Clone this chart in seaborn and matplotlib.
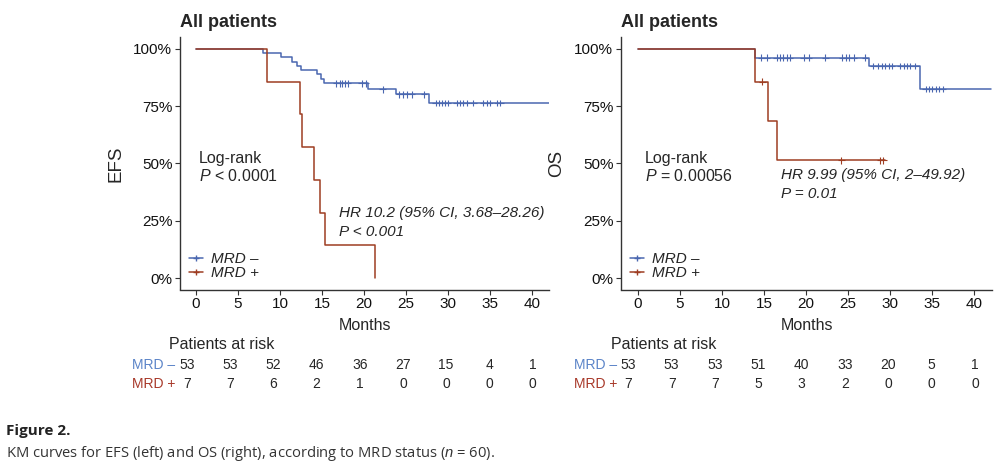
import numpy as np
import pandas as pd
import matplotlib
matplotlib.use('Agg')
import matplotlib.pyplot as plt
from matplotlib.lines import Line2D
import seaborn as sns

sns.set_theme(style='ticks')
plt.rcParams['font.family'] = ['Liberation Sans', 'DejaVu Sans']
plt.rcParams['mathtext.fontset'] = 'custom'
plt.rcParams['mathtext.rm'] = 'Liberation Sans'
plt.rcParams['mathtext.it'] = 'Liberation Sans:italic'

BLUE = '#4a67b0'
RED = '#9e3d22'
BLUE_TXT = '#5b84c8'
RED_TXT = '#a8392a'

# --- EFS step curves (time, survival after step) ---
efs_neg_t = [0, 8.0, 10.1, 11.4, 12.0, 12.5, 14.4, 14.9, 15.2, 20.5, 23.8, 27.7, 42.0]
efs_neg_s = [1.0, 0.981, 0.964, 0.943, 0.926, 0.906, 0.889, 0.870, 0.850, 0.824, 0.802, 0.764, 0.764]
efs_neg_cens = [16.7, 17.1, 17.4, 17.7, 18.1, 19.7, 20.2, 22.2, 24.2, 24.6, 25.1, 25.7, 27.1,
                28.5, 28.9, 29.3, 29.6, 30.0, 31.0, 31.4, 31.8, 32.2, 33.0, 34.2, 34.6, 35.0,
                35.8, 36.2]
efs_pos_t = [0, 8.4, 12.4, 12.65, 14.1, 14.8, 15.4, 21.3]
efs_pos_s = [1.0, 0.857, 0.714, 0.571, 0.429, 0.286, 0.143, 0.0]
efs_pos_cens = []

# --- OS step curves ---
os_neg_t = [0, 13.9, 27.5, 33.6, 42.0]
os_neg_s = [1.0, 0.962, 0.926, 0.825, 0.825]
os_neg_cens = [14.7, 15.3, 16.5, 16.9, 17.3, 17.7, 18.1, 19.7, 20.3, 22.3, 24.3, 24.7, 25.1,
               25.7, 27.0, 28.0, 28.6, 29.0, 29.4, 29.8, 30.2, 31.2, 31.6, 32.0, 32.4, 33.0,
               34.2, 34.6, 35.0, 35.4, 35.8, 36.3]
os_pos_t = [0, 13.9, 15.5, 16.5, 29.4]
os_pos_s = [1.0, 0.857, 0.686, 0.514, 0.514]
os_pos_cens = [14.8, 24.2, 28.8, 29.2]

# --- risk tables ---
risk_times = [0, 5, 10, 15, 20, 25, 30, 35, 40]
efs_risk_neg = [53, 53, 52, 46, 36, 27, 15, 4, 1]
efs_risk_pos = [7, 7, 6, 2, 1, 0, 0, 0, 0]
os_risk_neg = [53, 53, 53, 51, 40, 33, 20, 5, 1]
os_risk_pos = [7, 7, 7, 5, 3, 2, 0, 0, 0]

W, H = 1005, 465
fig = plt.figure(figsize=(W / 100, H / 100), dpi=100)
fig.patch.set_facecolor('white')


def px_axes(x0, y0, x1, y1):
    # pixel box (top-left origin) -> figure axes
    return fig.add_axes([x0 / W, 1 - y1 / H, (x1 - x0) / W, (y1 - y0) / H])


def step_frame(t, s, group):
    return pd.DataFrame({'time': t, 'surv': s, 'group': group})


def censor_frame(t, s, cens, group):
    t = np.asarray(t)
    s = np.asarray(s)
    ys = [s[np.searchsorted(t, c, side='right') - 1] for c in cens]
    return pd.DataFrame({'time': cens, 'surv': ys, 'group': group})


def km_panel(ax, neg, pos, ylabel, logrank, hr_lines, hr_y, xlim):
    curves = pd.concat([step_frame(neg[0], neg[1], 'MRD -'), step_frame(pos[0], pos[1], 'MRD +')])
    cens = pd.concat([censor_frame(neg[0], neg[1], neg[2], 'MRD -'),
                      censor_frame(pos[0], pos[1], pos[2], 'MRD +')])
    pal = {'MRD -': BLUE, 'MRD +': RED}
    sns.lineplot(data=curves, x='time', y='surv', hue='group', palette=pal, estimator=None,
                 sort=False, drawstyle='steps-post', linewidth=1.1, legend=False, ax=ax)
    if len(cens):
        sns.scatterplot(data=cens, x='time', y='surv', hue='group', palette=pal, marker='+',
                        s=22, linewidth=0.8, legend=False, ax=ax, zorder=3)
    ax.set_xlim(*xlim)
    ax.set_ylim(-0.05, 1.05)
    ax.set_xticks(range(0, 41, 5))
    ax.set_yticks([0, 0.25, 0.5, 0.75, 1.0])
    ax.set_yticklabels(['0%', '25%', '50%', '75%', '100%'])
    ax.tick_params(labelsize=11, length=3.5, width=0.8, color='#333333', pad=2,
                   labelcolor='#111111')
    for sp in ['left', 'bottom']:
        ax.spines[sp].set_color('#333333')
        ax.spines[sp].set_linewidth(1.0)
    sns.despine(ax=ax)
    ax.set_xlabel('Months', fontsize=11.5)
    ax.xaxis.set_label_coords(0.5, -0.113)
    ax.set_ylabel(ylabel, fontsize=13.5)
    ax.yaxis.set_label_coords(-0.15, 0.5)
    ax.text(0.0, 1.061, 'All patients', transform=ax.transAxes, fontsize=13,
            fontweight='bold', va='center', ha='left')
    ax.text(logrank[0], 0.524, 'Log-rank', fontsize=11.5, va='center')
    ax.text(logrank[0], 0.445, logrank[1], fontsize=11.5, va='center')
    ax.text(17.0, hr_y[0], hr_lines[0], fontsize=11, style='italic', va='center')
    ax.text(17.0, hr_y[1], hr_lines[1], fontsize=11, style='italic', va='center')
    handles = [Line2D([], [], color=BLUE, lw=1.1, marker='+', markersize=5),
               Line2D([], [], color=RED, lw=1.1, marker='+', markersize=5)]
    leg = ax.legend(handles, ['MRD \u2013', 'MRD +'], loc='lower left',
                    bbox_to_anchor=(0.0, 0.0), frameon=False, handlelength=0.9,
                    handletextpad=0.5, labelspacing=0.0, borderaxespad=0.2,
                    prop={'family': 'Liberation Sans', 'style': 'italic', 'size': 11})
    return leg


def risk_table(ax, times, neg, pos, xlim):
    ax.set_xlim(*xlim)
    ax.set_ylim(395, 335)
    ax.axis('off')
    ax.text(-2.0, 344, 'Patients at risk', fontsize=11.5, va='center', ha='left')
    ax.text(-1.3, 365, 'MRD \u2013', fontsize=10, va='center', ha='right', color=BLUE_TXT)
    ax.text(-1.3, 384, 'MRD +', fontsize=10, va='center', ha='right', color=RED_TXT)
    for t, a, b in zip(times, neg, pos):
        ax.text(t, 365, str(a), fontsize=10, va='center', ha='center')
        ax.text(t, 384, str(b), fontsize=10, va='center', ha='center')


ax1 = px_axes(180, 37.5, 549, 289.5)
km_panel(ax1, (efs_neg_t, efs_neg_s, efs_neg_cens), (efs_pos_t, efs_pos_s, efs_pos_cens),
         'EFS', (0.36, r'$\it{P}$ < 0.0001'),
         ('HR 10.2 (95% CI, 3.68\u201328.26)', 'P < 0.001'), (0.284, 0.201), (-1.9, 42.0))

ax2 = px_axes(621, 37.5, 992, 289.5)
km_panel(ax2, (os_neg_t, os_neg_s, os_neg_cens), (os_pos_t, os_pos_s, os_pos_cens),
         'OS', (0.83, r'$\it{P}$ = 0.00056'),
         ('HR 9.99 (95% CI, 2\u201349.92)', 'P = 0.01'), (0.450, 0.367), (-2.0, 42.1))

tab1 = px_axes(120, 335, 560, 395)
risk_table(tab1, risk_times, efs_risk_neg, efs_risk_pos, (-7.71, 43.16))
tab2 = px_axes(560, 335, 1000, 395)
risk_table(tab2, risk_times, os_risk_neg, os_risk_pos, (-7.88, 42.87))

fig.text(6 / W, 1 - 431 / H, 'Figure 2.', fontsize=11, fontweight='bold', va='center',
         family=['Open Sans', 'DejaVu Sans'], color='#222222')
fig.text(6 / W, 1 - 453 / H, 'KM curves for EFS (left) and OS (right), according to MRD status '
         r'($\it{n}$ = 60).', fontsize=10.6, va='center', family=['Open Sans', 'DejaVu Sans'],
         color='#333333')

fig.savefig('out.png', dpi=100, facecolor='white')
